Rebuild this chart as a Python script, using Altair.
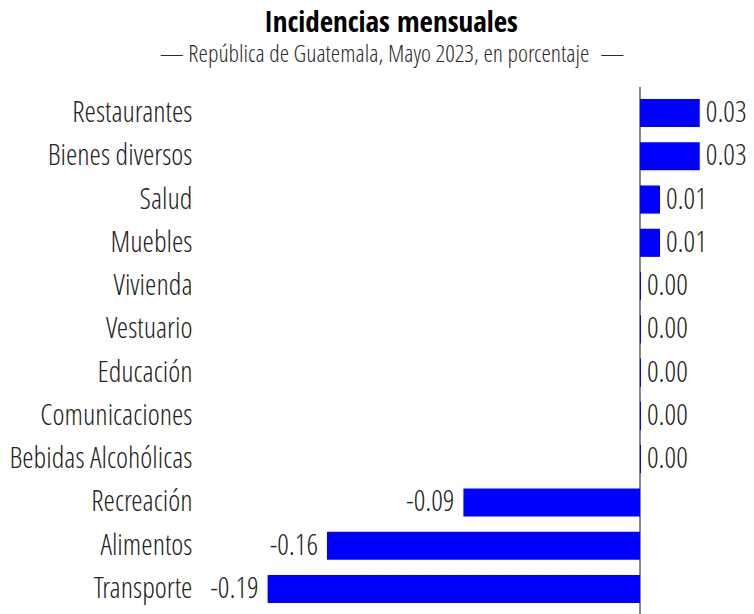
import altair as alt
import pandas as pd

categorias = ["Restaurantes", "Bienes diversos", "Salud", "Muebles", "Vivienda", "Vestuario",
              "Educación", "Comunicaciones", "Bebidas Alcohólicas", "Recreación", "Alimentos", "Transporte"]
valores = [0.0305, 0.0305, 0.0102, 0.0102, 0.0005, 0.0005, 0.0005, 0.0005, 0.0005, -0.0901, -0.1597, -0.19]

titulo = "Incidencias mensuales"
subtitulo = "— República de Guatemala, Mayo 2023, en porcentaje\u00a0 —"

df = pd.DataFrame({"cat": categorias, "val": valores})

LIGHT = "Open Sans Condensed Light"
BOLD = "Open Sans Condensed"
FS = 29
W, H = 540, 528

xscale = alt.Scale(domain=[-0.22449, 0.05102], nice=False, zero=True)
x = alt.X("val:Q", scale=xscale, axis=None)
y = alt.Y("cat:N", sort=categorias,
          scale=alt.Scale(paddingInner=0.35, paddingOuter=0.276),
          axis=alt.Axis(title=None, domain=False, ticks=False, labelFont=LIGHT, labelFontSize=FS,
                        labelColor="#222222", labelPadding=8, labelLimit=300))

base = alt.Chart(df).transform_calculate(
    lab="replace(format(datum.val, '.2f'), '\u2212', '-')",
    cero="0",
)
rule = base.mark_rule(color="#888888", strokeWidth=1.5).encode(
    x=alt.X("cero:Q", scale=xscale, axis=None), y=alt.value(0), y2=alt.value(H + 10))
bars = base.mark_bar(color="#0000ff").encode(x=x, y=y)
pos_text = base.transform_filter("datum.val >= 0").mark_text(
    font=LIGHT, fontSize=FS, align="left", dx=6, color="#222222", baseline="middle"
).encode(x=x, y=y, text="lab:N")
neg_text = base.transform_filter("datum.val < 0").mark_text(
    font=LIGHT, fontSize=FS, align="right", dx=-9, color="#222222", baseline="middle"
).encode(x=x, y=y, text="lab:N")

tdf = pd.DataFrame({"t": [titulo]})
sdf = pd.DataFrame({"t": [subtitulo]})
title_mark = alt.Chart(tdf).mark_text(
    font=BOLD, fontSize=FS, fontWeight="bold", color="#000000", align="center", baseline="alphabetic"
).encode(x=alt.value(191), y=alt.value(-55), text="t:N")
sub_mark = alt.Chart(sdf).mark_text(
    font=LIGHT, fontSize=24, color="#2a2a2a", align="center", baseline="alphabetic"
).encode(x=alt.value(192), y=alt.value(-25), text="t:N")

chart = alt.layer(rule, bars, pos_text, neg_text, title_mark, sub_mark).properties(
    width=W, height=H,
    autosize=alt.AutoSizeParams(type="none"),
    padding={"left": 192, "top": 79, "right": 6, "bottom": 0},
).configure_view(strokeWidth=0)

chart.save("out.html", embed_options={"renderer": "svg", "actions": False})
